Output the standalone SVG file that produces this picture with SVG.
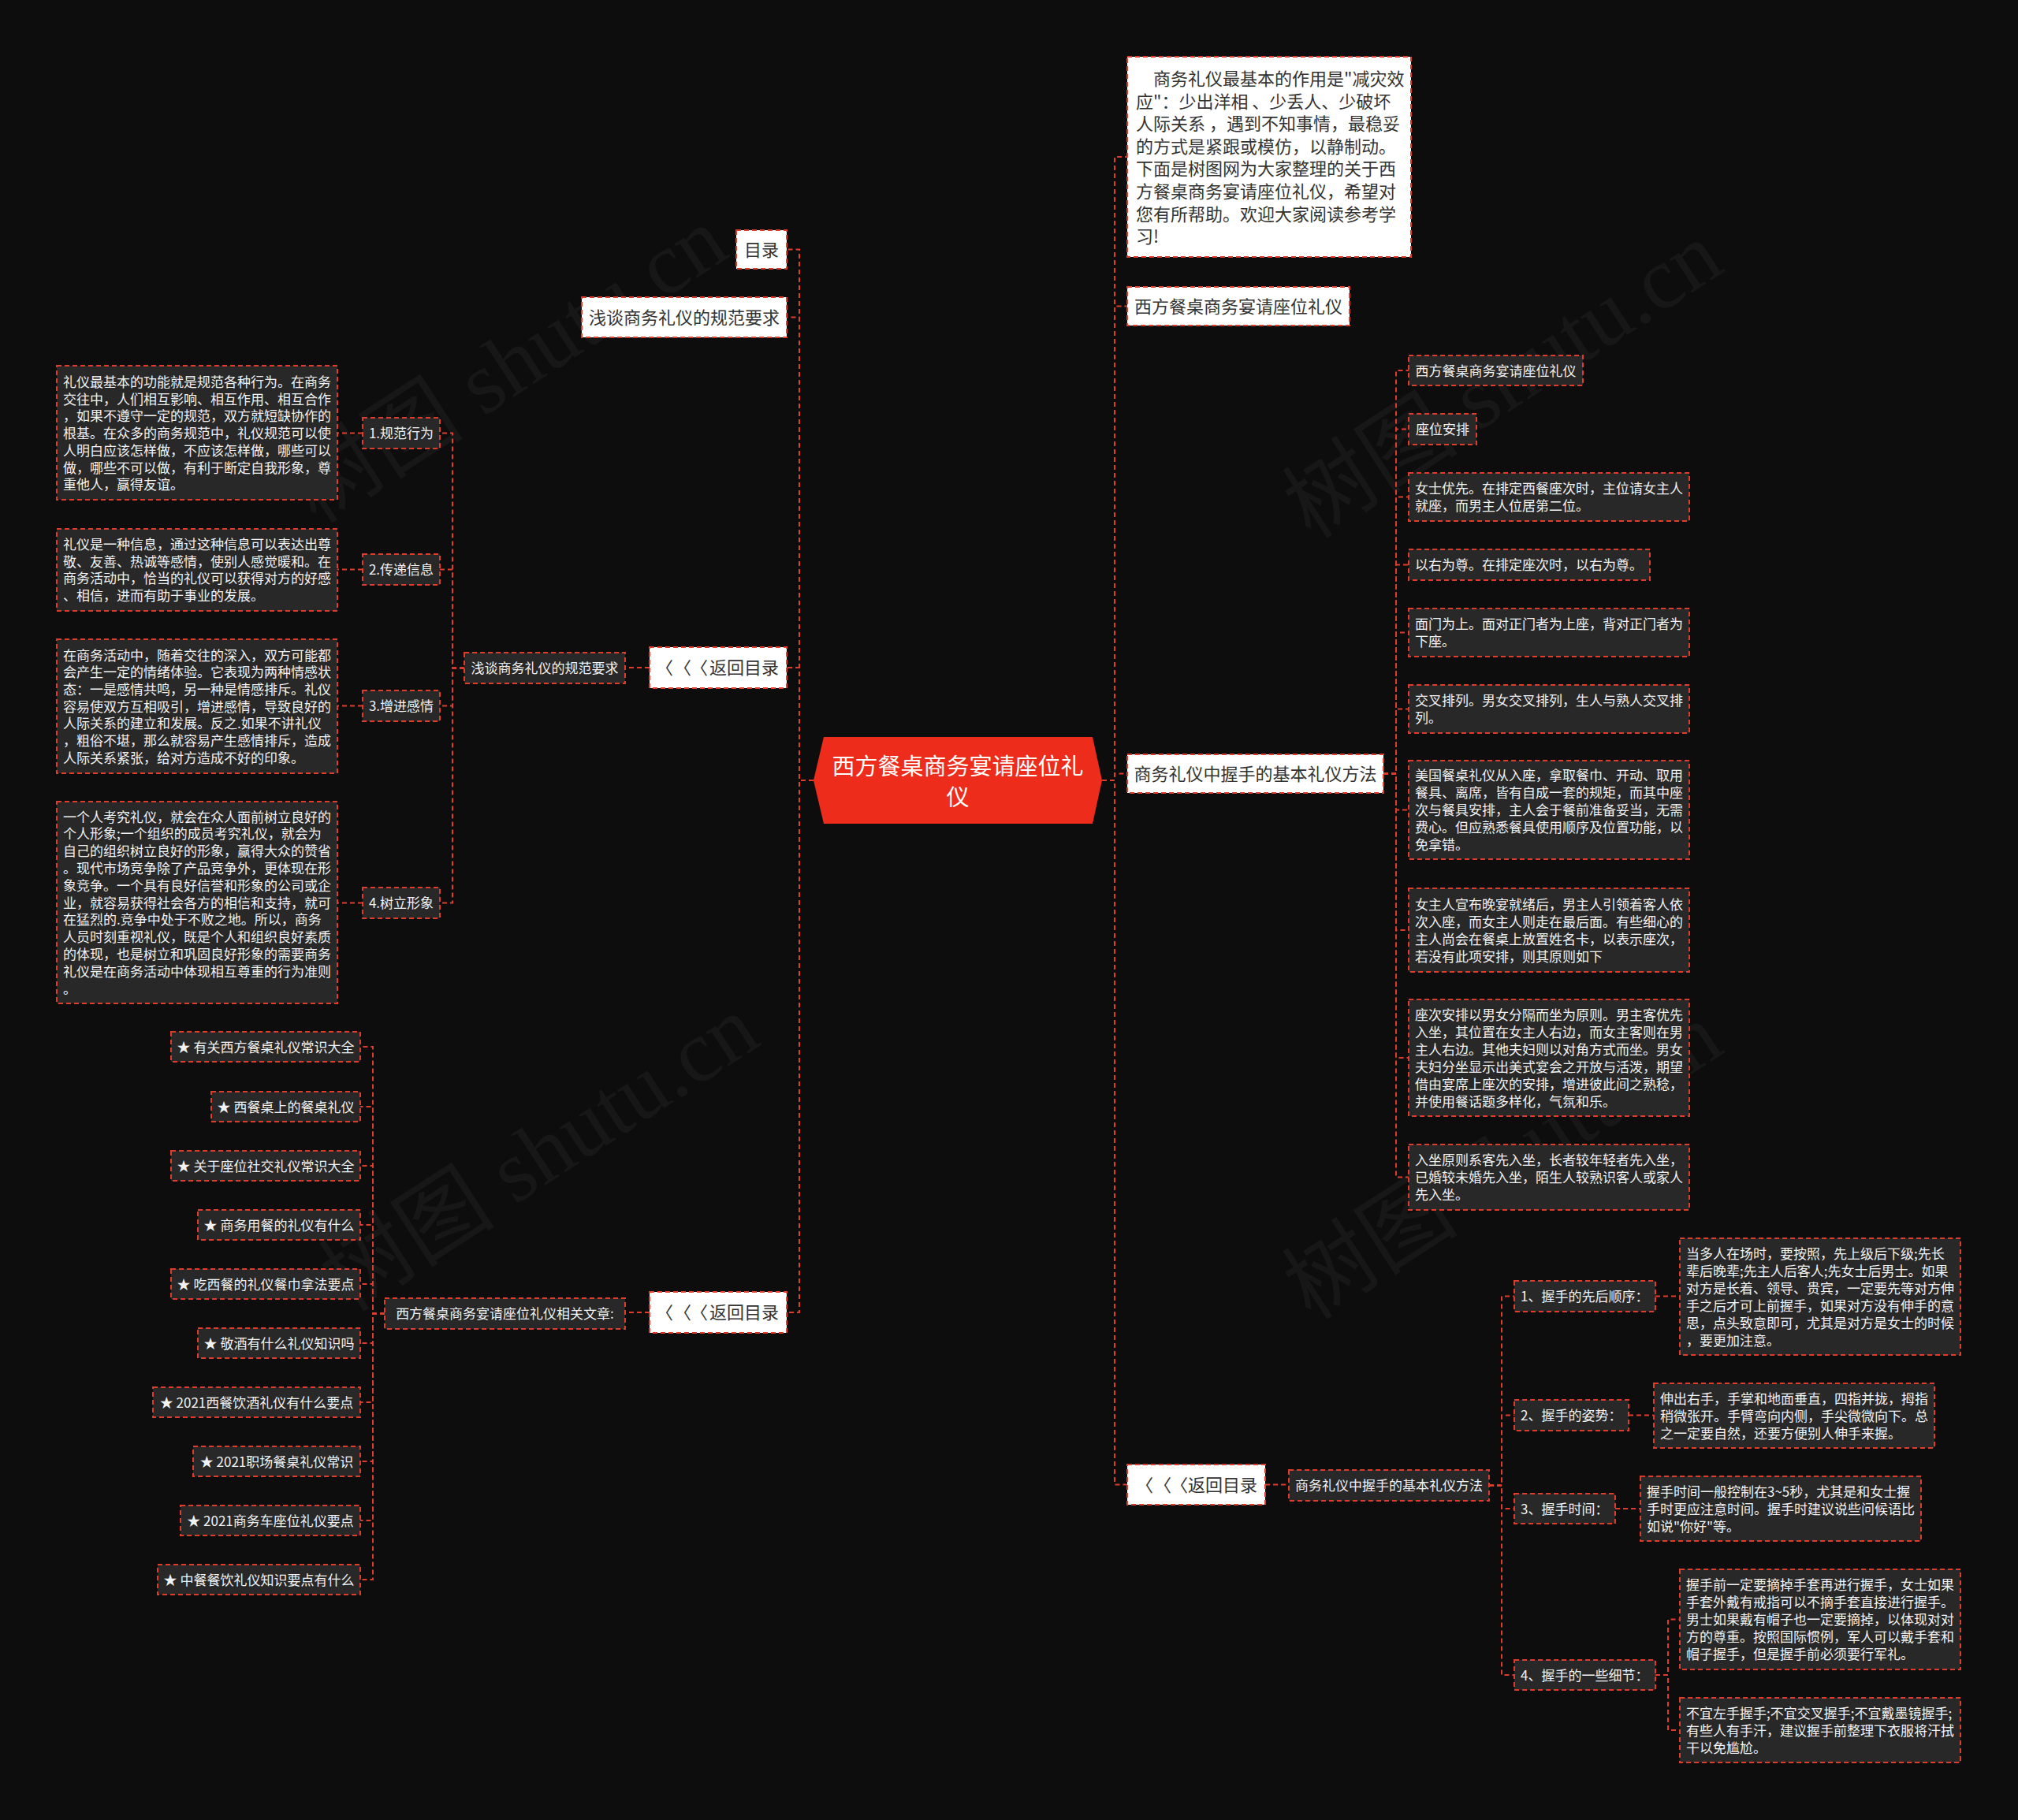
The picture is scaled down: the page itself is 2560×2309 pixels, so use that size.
<svg xmlns="http://www.w3.org/2000/svg" width="2560" height="2309" viewBox="0 0 2560 2309">
<style>
.e{fill:none;stroke:#e03c2c;stroke-width:2;stroke-dasharray:6 4}
.w{fill:#ffffff;stroke:#e03c2c;stroke-width:2;stroke-dasharray:6 4}
.d{fill:#282828;stroke:#e03c2c;stroke-width:2;stroke-dasharray:6 4}
text{font-family:"Noto Sans CJK SC","Noto Sans",sans-serif}
.tw{fill:#333333;font-size:22px}
.td{fill:#f2f2f2;font-size:17px}
.m{text-anchor:middle}
.wm{fill:#ffffff;fill-opacity:0.045;font-size:112px;font-family:"Liberation Serif","Noto Sans CJK SC",serif}
</style>
<rect x="0" y="0" width="2560" height="2309" fill="#0d0d0d"/>
<g id="watermarks">
<text class="wm m" transform="translate(665,495) rotate(-33)">树图 shutu.cn</text>
<text class="wm m" transform="translate(705,1495) rotate(-33)">树图 shutu.cn</text>
<text class="wm m" transform="translate(1927,514) rotate(-33)">树图 shutu.cn</text>
<text class="wm m" transform="translate(1927,1505) rotate(-33)">树图 shutu.cn</text>
</g>
<g id="connectors">
<path class="e" d="M1032 990H1014V316.5H998"/>
<path class="e" d="M1032 990H1014V402.5H998"/>
<path class="e" d="M1032 990H1014V847H998"/>
<path class="e" d="M1032 990H1014V1665H998"/>
<path class="e" d="M824 847H793"/>
<path class="e" d="M589 847.5H574V549.5H558"/>
<path class="e" d="M589 847.5H574V722.5H558"/>
<path class="e" d="M589 847.5H574V895.5H558"/>
<path class="e" d="M589 847.5H574V1145.5H558"/>
<path class="e" d="M460 549.5H428"/>
<path class="e" d="M460 722.5H428"/>
<path class="e" d="M460 895.5H428"/>
<path class="e" d="M460 1145.5H428"/>
<path class="e" d="M824 1665H793"/>
<path class="e" d="M488 1666.5H473V1328H457"/>
<path class="e" d="M488 1666.5H473V1404H457"/>
<path class="e" d="M488 1666.5H473V1479H457"/>
<path class="e" d="M488 1666.5H473V1554H457"/>
<path class="e" d="M488 1666.5H473V1629H457"/>
<path class="e" d="M488 1666.5H473V1704H457"/>
<path class="e" d="M488 1666.5H473V1779H457"/>
<path class="e" d="M488 1666.5H473V1854H457"/>
<path class="e" d="M488 1666.5H473V1929H457"/>
<path class="e" d="M488 1666.5H473V2004H457"/>
<path class="e" d="M1398 990H1414V199H1430"/>
<path class="e" d="M1398 990H1414V388.5H1430"/>
<path class="e" d="M1398 990H1414V981.5H1430"/>
<path class="e" d="M1398 990H1414V1883.5H1430"/>
<path class="e" d="M1755 981.5H1771V470H1787"/>
<path class="e" d="M1755 981.5H1771V544.5H1787"/>
<path class="e" d="M1755 981.5H1771V630.5H1787"/>
<path class="e" d="M1755 981.5H1771V716.5H1787"/>
<path class="e" d="M1755 981.5H1771V802.5H1787"/>
<path class="e" d="M1755 981.5H1771V899.5H1787"/>
<path class="e" d="M1755 981.5H1771V1027.5H1787"/>
<path class="e" d="M1755 981.5H1771V1180H1787"/>
<path class="e" d="M1755 981.5H1771V1342H1787"/>
<path class="e" d="M1755 981.5H1771V1493.5H1787"/>
<path class="e" d="M1605 1883.5H1635"/>
<path class="e" d="M1889 1884.5H1905V1644.5H1921"/>
<path class="e" d="M1889 1884.5H1905V1795.5H1921"/>
<path class="e" d="M1889 1884.5H1905V1914H1921"/>
<path class="e" d="M1889 1884.5H1905V2125H1921"/>
<path class="e" d="M2100 1644.5H2131"/>
<path class="e" d="M2066 1795.5H2098"/>
<path class="e" d="M2049 1914H2081"/>
<path class="e" d="M2100 2125H2116V2054.5H2131"/>
<path class="e" d="M2100 2125H2116V2195H2131"/>
</g>
<g id="center">
<polygon points="1045,935 1386,935 1398,990 1386,1045 1045,1045 1032,990" fill="#ee2c1c"/>
<text class="m" x="1215" y="983" fill="#ffffff" font-size="29">西方餐桌商务宴请座位礼</text>
<text class="m" x="1215" y="1022" fill="#ffffff" font-size="29">仪</text>
</g>
<g id="n-mulu"><rect class="w" x="934" y="292" width="64" height="49"/><text class="tw m" x="966" y="325">目录</text></g>
<g id="n-qiantan"><rect class="w" x="738" y="377" width="260" height="51"/><text class="tw m" x="868" y="411">浅谈商务礼仪的规范要求</text></g>
<g id="n-back1"><rect class="w" x="824" y="821" width="174" height="52"/><text class="tw" x="832 855 876 900 922 944 966" y="855">〈〈〈返回目录</text></g>
<g id="n-back2"><rect class="w" x="824" y="1639" width="174" height="52"/><text class="tw" x="832 855 876 900 922 944 966" y="1673">〈〈〈返回目录</text></g>
<g id="n-qiantan2"><rect class="d" x="589" y="828" width="204" height="39"/><text class="td m" x="691" y="854">浅谈商务礼仪的规范要求</text></g>
<g id="n-k1"><rect class="d" x="460" y="530" width="98" height="39"/><text class="td m" x="509" y="556">1.规范行为</text></g>
<g id="n-k2"><rect class="d" x="460" y="703" width="98" height="39"/><text class="td m" x="509" y="729">2.传递信息</text></g>
<g id="n-k3"><rect class="d" x="460" y="876" width="98" height="39"/><text class="td m" x="509" y="902">3.增进感情</text></g>
<g id="n-k4"><rect class="d" x="460" y="1126" width="98" height="39"/><text class="td m" x="509" y="1152">4.树立形象</text></g>
<g id="n-b1"><rect class="d" x="72" y="464" width="356" height="170"/>
<text class="td"><tspan x="80" y="491">礼仪最基本的功能就是规范各种行为。在商务</tspan><tspan x="80" y="512.7">交往中，人们相互影响、相互作用、相互合作</tspan><tspan x="80" y="534.4">，如果不遵守一定的规范，双方就短缺协作的</tspan><tspan x="80" y="556.1">根基。在众多的商务规范中，礼仪规范可以使</tspan><tspan x="80" y="577.8">人明白应该怎样做，不应该怎样做，哪些可以</tspan><tspan x="80" y="599.5">做，哪些不可以做，有利于断定自我形象，尊</tspan><tspan x="80" y="621.2">重他人，赢得友谊。</tspan></text></g>
<g id="n-b2"><rect class="d" x="72" y="671" width="356" height="104"/>
<text class="td"><tspan x="80" y="697">礼仪是一种信息，通过这种信息可以表达出尊</tspan><tspan x="80" y="718.7">敬、友善、热诚等感情，使别人感觉暖和。在</tspan><tspan x="80" y="740.4">商务活动中，恰当的礼仪可以获得对方的好感</tspan><tspan x="80" y="762.1">、相信，进而有助于事业的发展。</tspan></text></g>
<g id="n-b3"><rect class="d" x="72" y="811" width="356" height="170"/>
<text class="td"><tspan x="80" y="837.5">在商务活动中，随着交往的深入，双方可能都</tspan><tspan x="80" y="859.2">会产生一定的情绪体验。它表现为两种情感状</tspan><tspan x="80" y="880.9">态：一是感情共鸣，另一种是情感排斥。礼仪</tspan><tspan x="80" y="902.6">容易使双方互相吸引，增进感情，导致良好的</tspan><tspan x="80" y="924.3">人际关系的建立和发展。反之.如果不讲礼仪</tspan><tspan x="80" y="946">，粗俗不堪，那么就容易产生感情排斥，造成</tspan><tspan x="80" y="967.7">人际关系紧张，给对方造成不好的印象。</tspan></text></g>
<g id="n-b4"><rect class="d" x="72" y="1017" width="356" height="256"/>
<text class="td"><tspan x="80" y="1042.5">一个人考究礼仪，就会在众人面前树立良好的</tspan><tspan x="80" y="1064.3">个人形象;一个组织的成员考究礼仪，就会为</tspan><tspan x="80" y="1086.1">自己的组织树立良好的形象，赢得大众的赞省</tspan><tspan x="80" y="1107.9">。现代市场竞争除了产品竞争外，更体现在形</tspan><tspan x="80" y="1129.7">象竞争。一个具有良好信誉和形象的公司或企</tspan><tspan x="80" y="1151.5">业，就容易获得社会各方的相信和支持，就可</tspan><tspan x="80" y="1173.3">在猛烈的.竞争中处于不败之地。所以，商务</tspan><tspan x="80" y="1195.1">人员时刻重视礼仪，既是个人和组织良好素质</tspan><tspan x="80" y="1216.9">的体现，也是树立和巩固良好形象的需要商务</tspan><tspan x="80" y="1238.7">礼仪是在商务活动中体现相互尊重的行为准则</tspan><tspan x="80" y="1260.5">。</tspan></text></g>
<g id="n-related"><rect class="d" x="488" y="1647" width="305" height="39"/><text class="td m" x="640.5" y="1673">西方餐桌商务宴请座位礼仪相关文章:</text></g>
<g id="n-s1"><rect class="d" x="217" y="1309" width="240" height="38"/><text class="td m" x="337" y="1334.5">★ 有关西方餐桌礼仪常识大全</text></g>
<g id="n-s2"><rect class="d" x="268" y="1385" width="189" height="38"/><text class="td m" x="362.5" y="1410.5">★ 西餐桌上的餐桌礼仪</text></g>
<g id="n-s3"><rect class="d" x="217" y="1460" width="240" height="38"/><text class="td m" x="337" y="1485.5">★ 关于座位社交礼仪常识大全</text></g>
<g id="n-s4"><rect class="d" x="251" y="1535" width="206" height="38"/><text class="td m" x="354" y="1560.5">★ 商务用餐的礼仪有什么</text></g>
<g id="n-s5"><rect class="d" x="217" y="1610" width="240" height="38"/><text class="td m" x="337" y="1635.5">★ 吃西餐的礼仪餐巾拿法要点</text></g>
<g id="n-s6"><rect class="d" x="251" y="1685" width="206" height="38"/><text class="td m" x="354" y="1710.5">★ 敬酒有什么礼仪知识吗</text></g>
<g id="n-s7"><rect class="d" x="194" y="1760" width="263" height="38"/><text class="td m" x="325.5" y="1785.5">★ 2021西餐饮酒礼仪有什么要点</text></g>
<g id="n-s8"><rect class="d" x="245" y="1835" width="212" height="38"/><text class="td m" x="351" y="1860.5">★ 2021职场餐桌礼仪常识</text></g>
<g id="n-s9"><rect class="d" x="229" y="1910" width="228" height="38"/><text class="td m" x="343" y="1935.5">★ 2021商务车座位礼仪要点</text></g>
<g id="n-s10"><rect class="d" x="200" y="1985" width="257" height="38"/><text class="td m" x="328.5" y="2010.5">★ 中餐餐饮礼仪知识要点有什么</text></g>
<g id="n-intro"><rect class="w" x="1430" y="72" width="360" height="254"/>
<text class="tw"><tspan x="1463" y="108">商务礼仪最基本的作用是"减灾效</tspan><tspan x="1441" y="137">应"：少出洋相 、少丢人、少破坏</tspan><tspan x="1441" y="165">人际关系 ，遇到不知事情，最稳妥</tspan><tspan x="1441" y="194">的方式是紧跟或模仿，以静制动。</tspan><tspan x="1441" y="222">下面是树图网为大家整理的关于西</tspan><tspan x="1441" y="251">方餐桌商务宴请座位礼仪，希望对</tspan><tspan x="1441" y="280">您有所帮助。欢迎大家阅读参考学</tspan><tspan x="1441" y="308">习!</tspan></text></g>
<g id="n-title2"><rect class="w" x="1430" y="364" width="282" height="49"/><text class="tw m" x="1571" y="397">西方餐桌商务宴请座位礼仪</text></g>
<g id="n-handshake"><rect class="w" x="1430" y="957" width="325" height="49"/><text class="tw m" x="1592.5" y="990">商务礼仪中握手的基本礼仪方法</text></g>
<g id="n-back3"><rect class="w" x="1430" y="1858" width="175" height="51"/><text class="tw" x="1441 1464 1485 1507 1529 1551 1573" y="1892">〈〈〈返回目录</text></g>
<g id="n-r1"><rect class="d" x="1787" y="451" width="221" height="38"/><text class="td m" x="1897.5" y="476.5">西方餐桌商务宴请座位礼仪</text></g>
<g id="n-r2"><rect class="d" x="1787" y="525" width="86" height="39"/><text class="td m" x="1830" y="551">座位安排</text></g>
<g id="n-r3"><rect class="d" x="1787" y="600" width="356" height="61"/>
<text class="td"><tspan x="1795" y="626">女士优先。在排定西餐座次时，主位请女主人</tspan><tspan x="1795" y="648">就座，而男主人位居第二位。</tspan></text></g>
<g id="n-r4"><rect class="d" x="1787" y="697" width="306" height="39"/><text class="td" x="1795" y="723">以右为尊。在排定座次时，以右为尊。</text></g>
<g id="n-r5"><rect class="d" x="1787" y="772" width="356" height="61"/>
<text class="td"><tspan x="1795" y="798">面门为上。面对正门者为上座，背对正门者为</tspan><tspan x="1795" y="820">下座。</tspan></text></g>
<g id="n-r6"><rect class="d" x="1787" y="869" width="356" height="61"/>
<text class="td"><tspan x="1795" y="895">交叉排列。男女交叉排列，生人与熟人交叉排</tspan><tspan x="1795" y="917">列。</tspan></text></g>
<g id="n-r7"><rect class="d" x="1787" y="965" width="356" height="125"/>
<text class="td"><tspan x="1795" y="990">美国餐桌礼仪从入座，拿取餐巾、开动、取用</tspan><tspan x="1795" y="1012">餐具、离席，皆有自成一套的规矩，而其中座</tspan><tspan x="1795" y="1034">次与餐具安排，主人会于餐前准备妥当，无需</tspan><tspan x="1795" y="1056">费心。但应熟悉餐具使用顺序及位置功能，以</tspan><tspan x="1795" y="1078">免拿错。</tspan></text></g>
<g id="n-r8"><rect class="d" x="1787" y="1127" width="356" height="106"/>
<text class="td"><tspan x="1795" y="1153.5">女主人宣布晚宴就绪后，男主人引领着客人依</tspan><tspan x="1795" y="1175.5">次入座，而女主人则走在最后面。有些细心的</tspan><tspan x="1795" y="1197.5">主人尚会在餐桌上放置姓名卡，以表示座次，</tspan><tspan x="1795" y="1219.5">若没有此项安排，则其原则如下</tspan></text></g>
<g id="n-r9"><rect class="d" x="1787" y="1268" width="356" height="148"/>
<text class="td"><tspan x="1795" y="1293.5">座次安排以男女分隔而坐为原则。男主客优先</tspan><tspan x="1795" y="1315.5">入坐，其位置在女主人右边，而女主客则在男</tspan><tspan x="1795" y="1337.5">主人右边。其他夫妇则以对角方式而坐。男女</tspan><tspan x="1795" y="1359.5">夫妇分坐显示出美式宴会之开放与活泼，期望</tspan><tspan x="1795" y="1381.5">借由宴席上座次的安排，增进彼此间之熟稔，</tspan><tspan x="1795" y="1403.5">并使用餐话题多样化，气氛和乐。</tspan></text></g>
<g id="n-r10"><rect class="d" x="1787" y="1452" width="356" height="83"/>
<text class="td"><tspan x="1795" y="1478">入坐原则系客先入坐，长者较年轻者先入坐，</tspan><tspan x="1795" y="1500">已婚较未婚先入坐，陌生人较熟识客人或家人</tspan><tspan x="1795" y="1522">先入坐。</tspan></text></g>
<g id="n-handshake2"><rect class="d" x="1635" y="1865" width="254" height="39"/><text class="td m" x="1762" y="1891">商务礼仪中握手的基本礼仪方法</text></g>
<g id="n-h1"><rect class="d" x="1921" y="1625" width="179" height="39"/><text class="td" x="1929" y="1651">1、握手的先后顺序：</text></g>
<g id="n-h2"><rect class="d" x="1921" y="1776" width="145" height="39"/><text class="td" x="1929" y="1802">2、握手的姿势：</text></g>
<g id="n-h3"><rect class="d" x="1921" y="1895" width="128" height="38"/><text class="td" x="1929" y="1920.5">3、握手时间：</text></g>
<g id="n-h4"><rect class="d" x="1921" y="2106" width="179" height="38"/><text class="td" x="1929" y="2131.5">4、握手的一些细节：</text></g>
<g id="n-t1"><rect class="d" x="2131" y="1571" width="356" height="148"/>
<text class="td"><tspan x="2139" y="1596.5">当多人在场时，要按照，先上级后下级;先长</tspan><tspan x="2139" y="1618.5">辈后晚辈;先主人后客人;先女士后男士。如果</tspan><tspan x="2139" y="1640.5">对方是长着、领导、贵宾，一定要先等对方伸</tspan><tspan x="2139" y="1662.5">手之后才可上前握手，如果对方没有伸手的意</tspan><tspan x="2139" y="1684.5">思，点头致意即可，尤其是对方是女士的时候</tspan><tspan x="2139" y="1706.5">，要更加注意。</tspan></text></g>
<g id="n-t2"><rect class="d" x="2098" y="1755" width="356" height="82"/>
<text class="td"><tspan x="2106" y="1781">伸出右手，手掌和地面垂直，四指并拢，拇指</tspan><tspan x="2106" y="1803">稍微张开。手臂弯向内侧，手尖微微向下。总</tspan><tspan x="2106" y="1825">之一定要自然，还要方便别人伸手来握。</tspan></text></g>
<g id="n-t3"><rect class="d" x="2081" y="1873" width="356" height="82"/>
<text class="td"><tspan x="2089" y="1899">握手时间一般控制在3~5秒，尤其是和女士握</tspan><tspan x="2089" y="1921">手时更应注意时间。握手时建议说些问候语比</tspan><tspan x="2089" y="1943">如说"你好"等。</tspan></text></g>
<g id="n-t4a"><rect class="d" x="2131" y="1991" width="356" height="127"/>
<text class="td"><tspan x="2139" y="2017">握手前一定要摘掉手套再进行握手，女士如果</tspan><tspan x="2139" y="2039">手套外戴有戒指可以不摘手套直接进行握手。</tspan><tspan x="2139" y="2061">男士如果戴有帽子也一定要摘掉，以体现对对</tspan><tspan x="2139" y="2083">方的尊重。按照国际惯例，军人可以戴手套和</tspan><tspan x="2139" y="2105">帽子握手，但是握手前必须要行军礼。</tspan></text></g>
<g id="n-t4b"><rect class="d" x="2131" y="2154" width="356" height="82"/>
<text class="td"><tspan x="2139" y="2180">不宜左手握手;不宜交叉握手;不宜戴墨镜握手;</tspan><tspan x="2139" y="2202">有些人有手汗，建议握手前整理下衣服将汗拭</tspan><tspan x="2139" y="2224">干以免尴尬。</tspan></text></g>
</svg>
